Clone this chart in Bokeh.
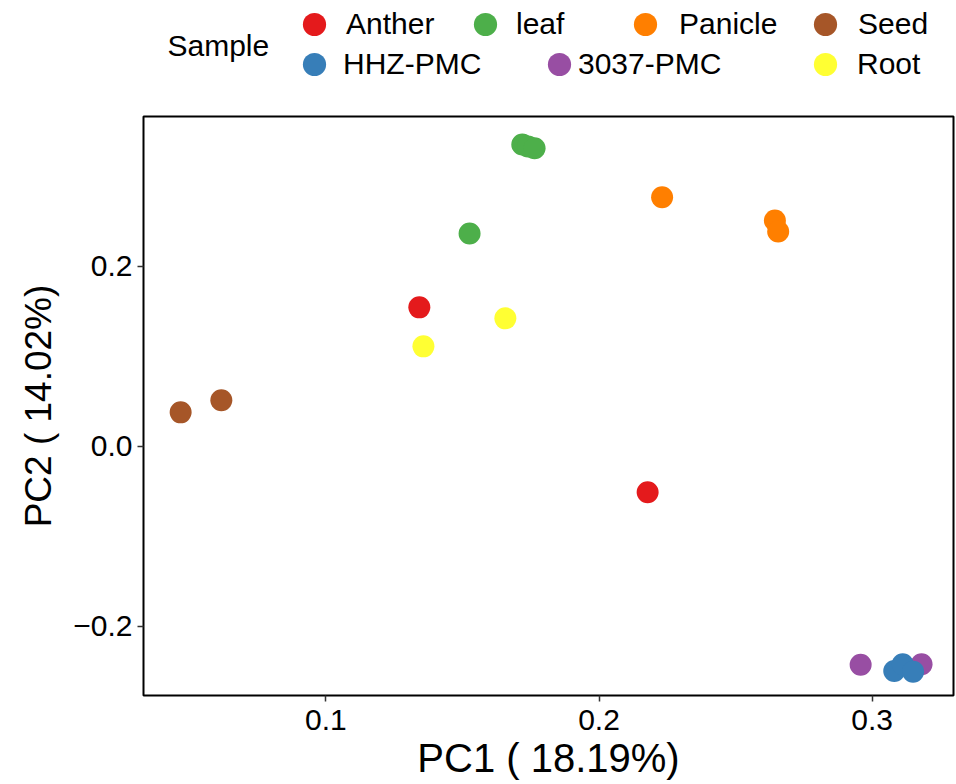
from bokeh.plotting import figure
from bokeh.layouts import column
from bokeh.models import (Range1d, FixedTicker, CustomJSTickFormatter, Legend,
                          LegendItem, Label)
from bokeh.embed import file_html
from bokeh.resources import INLINE

# ---------------- data ----------------
groups = ["Anther", "HHZ-PMC", "leaf", "3037-PMC", "Panicle", "Root", "Seed"]
colors = ["#E41A1C", "#377EB8", "#4DAF4A", "#984EA3", "#FF7F00", "#FFFF33", "#A65628"]

anther_pc1 = [0.1342, 0.2178]
anther_pc2 = [0.1543, -0.0511]
hhz_pc1 = [0.3081, 0.3112, 0.3150]
hhz_pc2 = [-0.2496, -0.2420, -0.2503]
leaf_pc1 = [0.1526, 0.1719, 0.1740, 0.1764]
leaf_pc2 = [0.2364, 0.3352, 0.3330, 0.3311]
pmc3037_pc1 = [0.2958, 0.3181]
pmc3037_pc2 = [-0.2427, -0.2420]
panicle_pc1 = [0.2231, 0.2644, 0.2656]
panicle_pc2 = [0.2767, 0.2508, 0.2386]
root_pc1 = [0.1357, 0.1657]
root_pc2 = [0.1110, 0.1421]
seed_pc1 = [0.0468, 0.0617]
seed_pc2 = [0.0377, 0.0511]

x_ticks = [0.1, 0.2, 0.3]
y_ticks = [-0.2, 0.0, 0.2]
x_limits = (0.0332, 0.3298)
y_limits = (-0.2768, 0.3663)

x_title = "PC1 ( 18.19%)"
y_title = "PC2 ( 14.02%)"
legend_title = "Sample"

series = {
    "Anther": (anther_pc1, anther_pc2),
    "HHZ-PMC": (hhz_pc1, hhz_pc2),
    "leaf": (leaf_pc1, leaf_pc2),
    "3037-PMC": (pmc3037_pc1, pmc3037_pc2),
    "Panicle": (panicle_pc1, panicle_pc2),
    "Root": (root_pc1, root_pc2),
    "Seed": (seed_pc1, seed_pc2),
}
draw_order = ["Seed", "Root", "Anther", "leaf", "Panicle", "3037-PMC", "HHZ-PMC"]

# ---------------- layout / style ----------------
FONT = "Liberation Sans"
W, H = 956, 784
LEG_H = 90
FRAME_L, FRAME_T, FRAME_R, FRAME_B = 143, 116, 953, 695

# ---- main plot ----
p = figure(width=W, height=H - LEG_H, output_backend="svg", toolbar_location=None,
           x_range=Range1d(*x_limits), y_range=Range1d(*y_limits),
           min_border_left=FRAME_L, min_border_right=W - FRAME_R,
           min_border_top=FRAME_T - LEG_H, min_border_bottom=H - FRAME_B)
p.background_fill_color = "white"
p.border_fill_color = "white"
p.outline_line_color = "black"
p.outline_line_width = 2
p.outline_line_alpha = 1.0
p.xgrid.visible = False
p.ygrid.visible = False

minus_fmt = "return tick.toFixed(1).replace('-', '\u2212');"
for ax, ticks in ((p.xaxis[0], x_ticks), (p.yaxis[0], y_ticks)):
    ax.ticker = FixedTicker(ticks=ticks)
    ax.formatter = CustomJSTickFormatter(code=minus_fmt)
    ax.axis_line_color = None
    ax.major_tick_in = 0
    ax.major_tick_out = 6
    ax.major_tick_line_color = "#333333"
    ax.major_tick_line_width = 1.5
    ax.minor_tick_line_color = None
    ax.major_label_text_font = FONT
    ax.major_label_text_font_size = "30px"
    ax.major_label_text_color = "black"
    ax.axis_label_text_font = FONT
    ax.axis_label_text_font_style = "normal"
    ax.axis_label_text_color = "black"

p.xaxis[0].axis_label = x_title
p.xaxis[0].axis_label_text_font_size = "40px"
p.xaxis[0].major_label_standoff = 8
p.xaxis[0].axis_label_standoff = 3
p.yaxis[0].axis_label = y_title
p.yaxis[0].axis_label_text_font_size = "37px"
p.yaxis[0].major_label_standoff = 5
p.yaxis[0].axis_label_standoff = 11

for name in draw_order:
    xs, ys = series[name]
    col = colors[groups.index(name)]
    p.scatter(xs, ys, size=22, marker="circle",
              fill_color=col, line_color=col, line_width=0)

# ---- legend strip: its frame is aligned with the main frame (x 143..953) ----
lg = figure(width=W, height=LEG_H, output_backend="svg", toolbar_location=None,
            x_range=Range1d(0, FRAME_R - FRAME_L), y_range=Range1d(0, LEG_H),
            x_axis_location=None, y_axis_location=None,
            min_border=0, min_border_left=FRAME_L, min_border_right=W - FRAME_R,
            min_border_top=0, min_border_bottom=0)
lg.outline_line_color = None
lg.xgrid.visible = False
lg.ygrid.visible = False
lg.background_fill_color = "white"
lg.border_fill_color = "white"

GLYPH = 58
LEG_FONT = "30px"
# (glyph centre x, row centre y, text start x) in page pixels
legend_pos = {
    "Anther": (314, 24, 346),
    "leaf": (485, 24, 516),
    "Panicle": (645, 24, 679),
    "Seed": (825, 24, 858),
    "HHZ-PMC": (314, 64, 343),
    "3037-PMC": (559, 64, 578),
    "Root": (825, 64, 857),
}
nan = float("nan")


def add_legend(renderer, label, gx, gy, standoff):
    vx = gx - GLYPH // 2 - FRAME_L
    vy = LEG_H - (gy - GLYPH // 2) - GLYPH
    leg = Legend(items=[LegendItem(label=label, renderers=[renderer])],
                 location=(vx, vy), orientation="horizontal",
                 padding=0, margin=0, spacing=0,
                 glyph_width=GLYPH, glyph_height=GLYPH, label_standoff=standoff,
                 label_text_font=FONT, label_text_font_size=LEG_FONT,
                 label_text_color="black", label_text_baseline="middle",
                 border_line_color=None, background_fill_alpha=0)
    lg.add_layout(leg, "center")


# a transparent key used when a label sits closer to its dot than a key box allows
blank_key = lg.scatter(x=[nan], y=[nan], marker="circle", fill_alpha=0, line_alpha=0)

for name in groups:
    gx, gy, tx = legend_pos[name]
    col = colors[groups.index(name)]
    key = lg.scatter(x=[nan], y=[nan], marker="circle", fill_color=col,
                     line_color=col, line_width=0)
    standoff = tx - (gx + GLYPH // 2)
    if standoff >= 0:
        add_legend(key, name, gx, gy, standoff)
    else:
        add_legend(key, "", gx, gy, 0)
        add_legend(blank_key, name, tx - GLYPH // 2, gy, 0)

lg.add_layout(Label(x=167 - FRAME_L, y=LEG_H - 45, x_units="screen", y_units="screen",
                    text=legend_title, text_font=FONT, text_font_size=LEG_FONT,
                    text_color="black", text_baseline="middle"))

layout = column(lg, p, spacing=0)
open("out.html", "w").write(file_html(layout, INLINE))
